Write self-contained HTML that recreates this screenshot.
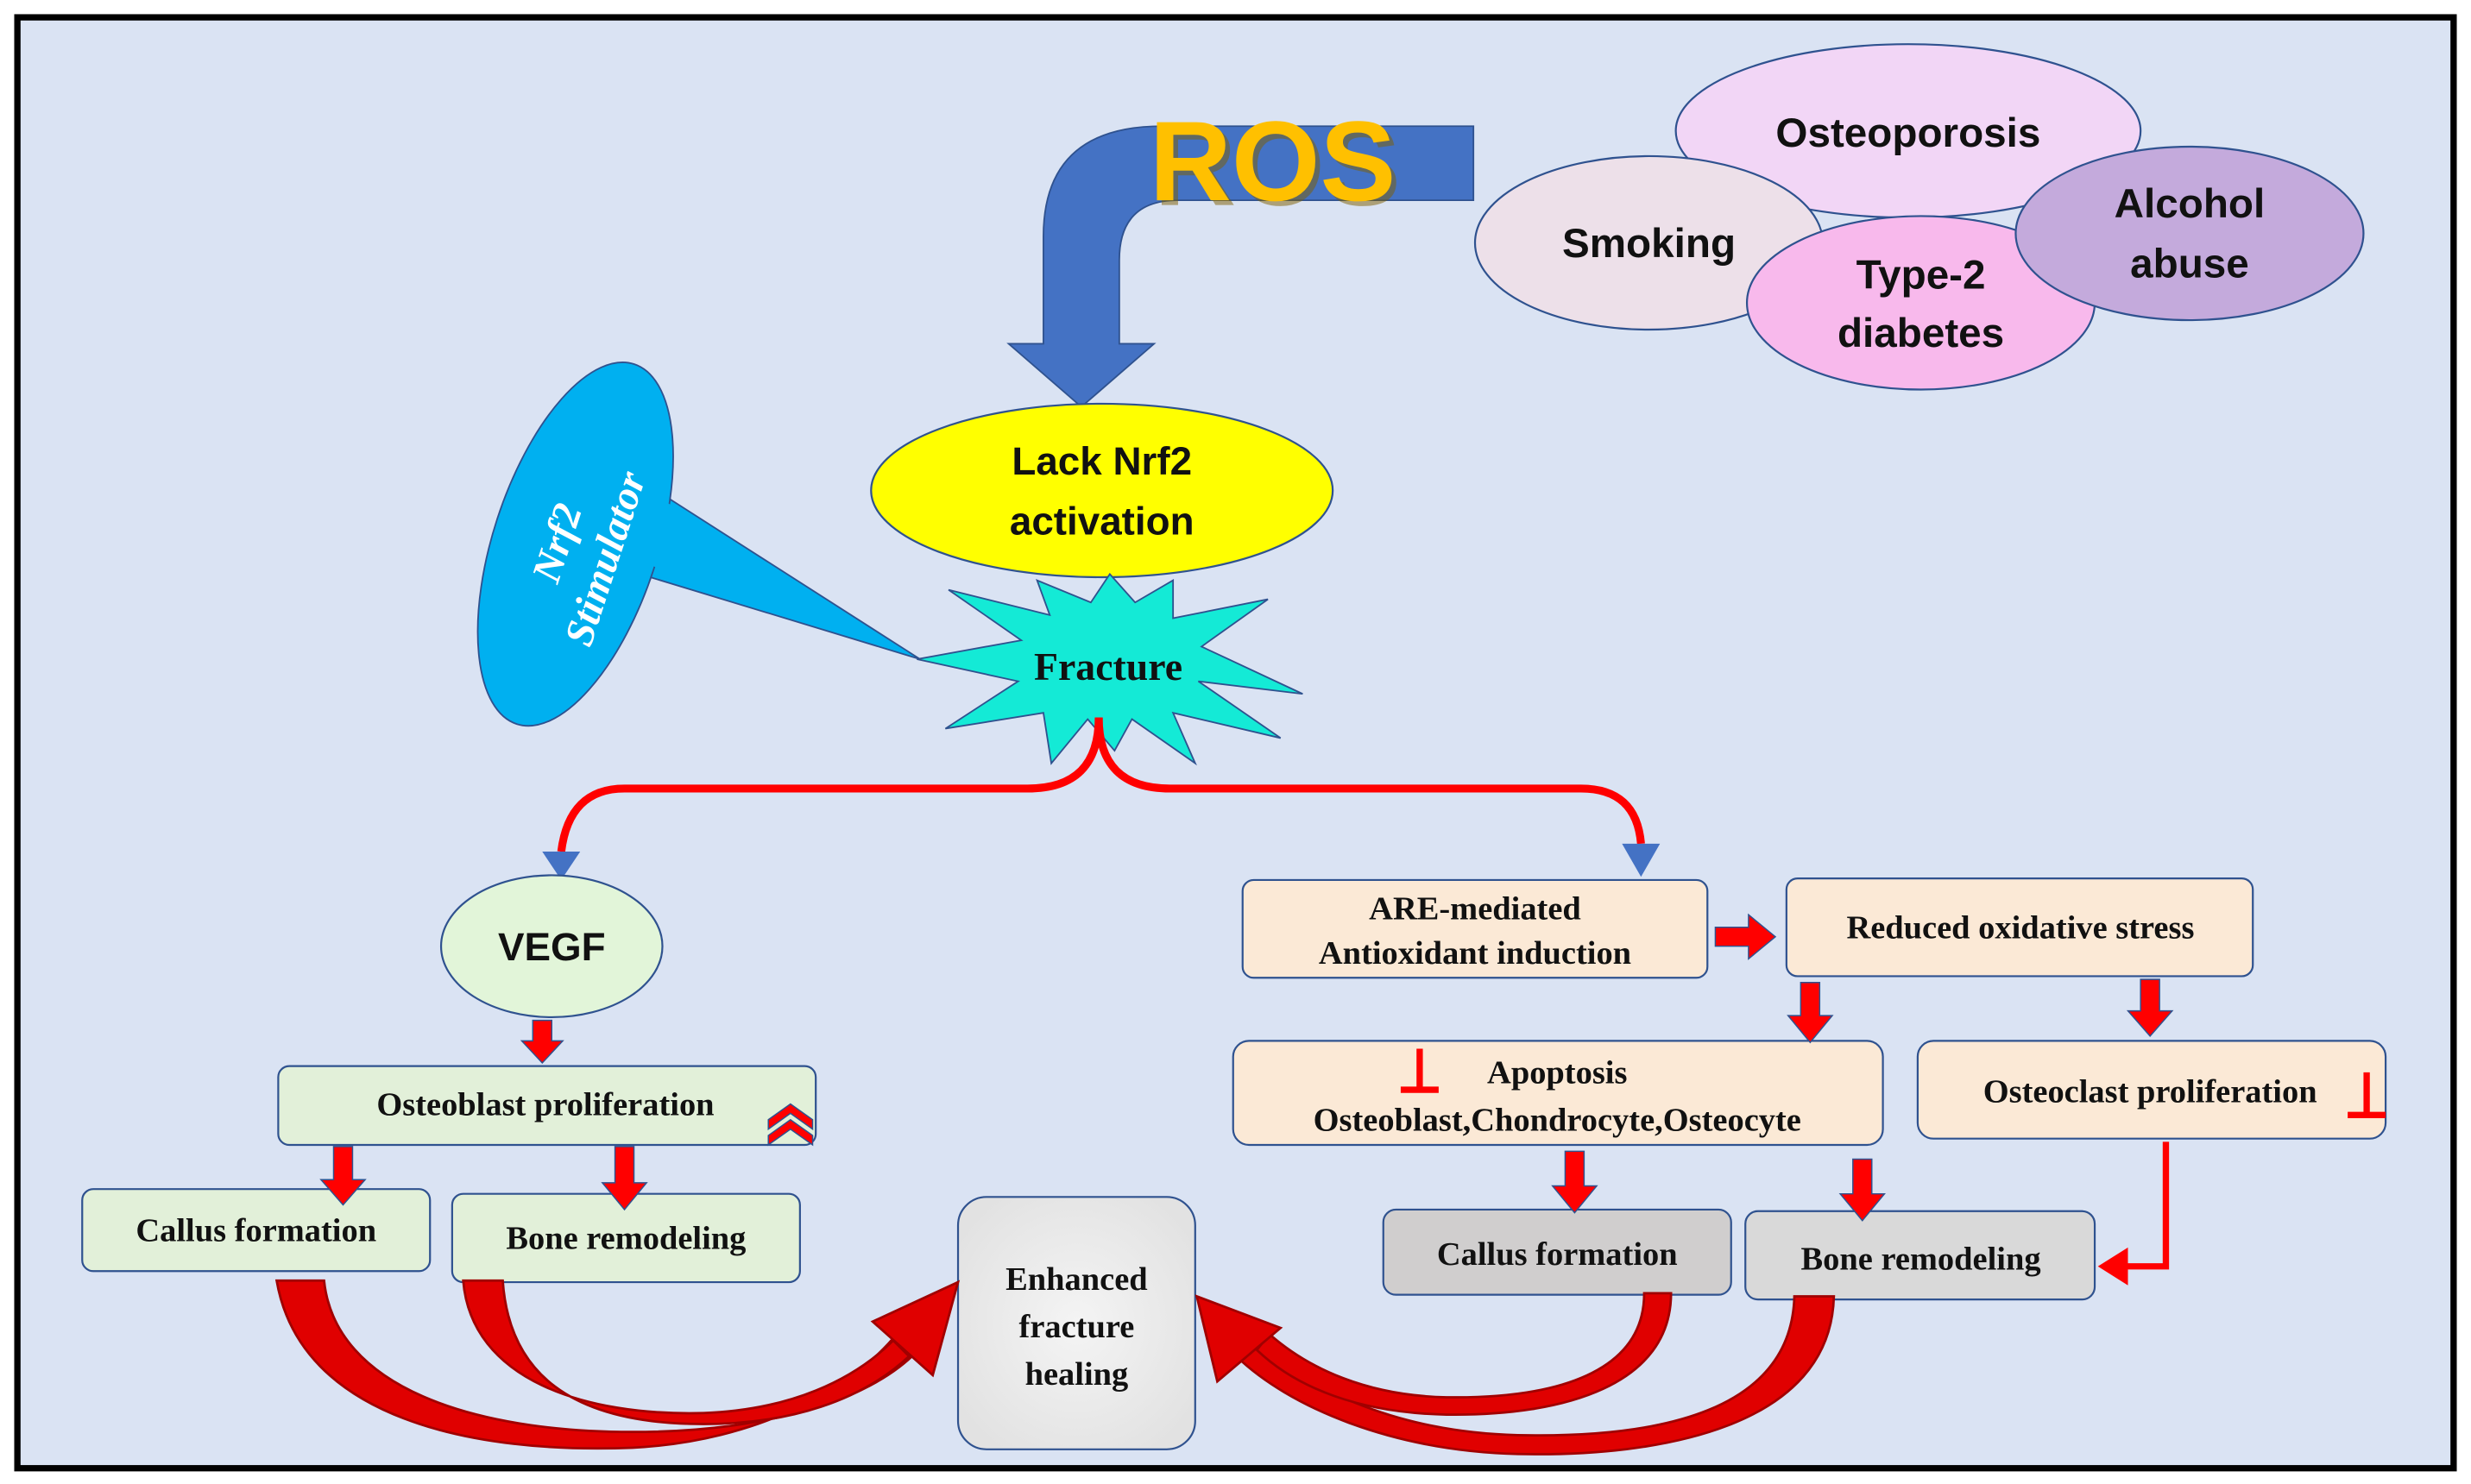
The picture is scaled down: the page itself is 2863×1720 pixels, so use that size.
<!DOCTYPE html>
<html><head><meta charset="utf-8"><style>
html,body{margin:0;padding:0;background:#fff;}
svg{display:block;}
.s{font-family:"Liberation Sans",sans-serif;font-weight:bold;fill:#111;}
.r{font-family:"Liberation Serif",serif;font-weight:bold;fill:#111;}
</style></head><body>
<svg width="2863" height="1720" viewBox="0 0 1563 941" preserveAspectRatio="none" xmlns="http://www.w3.org/2000/svg">
<defs>
<radialGradient id="gr" cx="50%" cy="50%" r="60%"><stop offset="0" stop-color="#f4f4f4"/><stop offset="1" stop-color="#e2e2e2"/></radialGradient>
</defs>
<rect x="0" y="0" width="1563" height="941" fill="#fff"/>
<rect x="11" y="11" width="1541" height="920" fill="#dae3f3" stroke="#000" stroke-width="4"/>

<!-- ROS arrow -->
<path d="M932,80 L932,127 L745,127 Q708,127 708,165 L708,218 L730,218 L684,258 L638,218 L660,218 L660,150 Q660,80 735,80 Z" fill="#4472c4" stroke="#2f528f" stroke-width="1"/>
<text x="805" y="127" text-anchor="middle" class="s" style="font-size:72px;fill:#7f6000" opacity="0.5" transform="translate(3,3)">ROS</text>
<text x="805" y="127" text-anchor="middle" class="s" style="font-size:72px;fill:#ffc000">ROS</text>

<!-- risk ellipses -->
<ellipse cx="1207" cy="83" rx="147" ry="55" fill="#f2d6f6" stroke="#2f528f" stroke-width="1.2"/>
<ellipse cx="1043" cy="154" rx="110" ry="55" fill="#ede0e9" stroke="#2f528f" stroke-width="1.2"/>
<ellipse cx="1215" cy="192" rx="110" ry="55" fill="#f8b9ec" stroke="#2f528f" stroke-width="1.2"/>
<ellipse cx="1385" cy="148" rx="110" ry="55" fill="#c4aadc" stroke="#2f528f" stroke-width="1.2"/>
<text x="1207" y="93" text-anchor="middle" class="s" style="font-size:26px">Osteoporosis</text>
<text x="1043" y="163" text-anchor="middle" class="s" style="font-size:26px">Smoking</text>
<text x="1215" y="183" text-anchor="middle" class="s" style="font-size:26px">Type-2</text>
<text x="1215" y="220" text-anchor="middle" class="s" style="font-size:26px">diabetes</text>
<text x="1385" y="138" text-anchor="middle" class="s" style="font-size:26px">Alcohol</text>
<text x="1385" y="176" text-anchor="middle" class="s" style="font-size:26px">abuse</text>

<!-- Lack Nrf2 -->
<ellipse cx="697" cy="311" rx="146" ry="55" fill="#ffff00" stroke="#2f528f" stroke-width="1.2"/>
<text x="697" y="301" text-anchor="middle" class="s" style="font-size:25px">Lack Nrf2</text>
<text x="697" y="339" text-anchor="middle" class="s" style="font-size:25px">activation</text>

<!-- Nrf2 stimulator -->
<polygon points="398,300 582,418 408,365" fill="#00b0f0" stroke="#2f528f" stroke-width="1"/>
<ellipse cx="364" cy="345" rx="52" ry="120" transform="rotate(18 364 345)" fill="#00b0f0" stroke="#2f528f" stroke-width="1"/>
<polygon points="400,305 575,414 410,358" fill="#00b0f0"/>
<g transform="rotate(-72 370 350)">
<text x="370" y="340" text-anchor="middle" class="r" style="font-size:26px;fill:#fff;font-style:italic">Nrf2</text>
<text x="370" y="372" text-anchor="middle" class="r" style="font-size:26px;fill:#fff;font-style:italic">Stimulator</text>
</g>

<!-- Fracture star -->
<polygon points="824,440 758,432 810,468 742,452 756,484 716,456 705,476 688,456 665,484 660,452 598,462 644,432 580,418 646,406 600,374 664,390 656,368 690,382 702,364 718,382 742,368 742,392 802,380 760,410" fill="#14ead6" stroke="#2f528f" stroke-width="1"/>
<text x="701" y="431" text-anchor="middle" class="r" style="font-size:25px">Fracture</text>

<!-- red branches -->
<path d="M695,455 Q695,500 650,500 L395,500 Q360,500 355,540" fill="none" stroke="#f00" stroke-width="5"/>
<path d="M695,455 Q695,500 740,500 L1000,500 Q1035,500 1038,535" fill="none" stroke="#f00" stroke-width="5"/>
<polygon points="343,540 367,540 355,558" fill="#4472c4"/>
<polygon points="1026,535 1050,535 1038,556" fill="#4472c4"/>

<!-- VEGF -->
<ellipse cx="349" cy="600" rx="70" ry="45" fill="#e2f5d9" stroke="#2f528f" stroke-width="1.2"/>
<text x="349" y="609" text-anchor="middle" class="s" style="font-size:25px">VEGF</text>

<!-- left boxes -->
<rect x="176" y="676" width="340" height="50" rx="7" fill="#e2f0d9" stroke="#2f528f" stroke-width="1.2"/>
<text x="345" y="707" text-anchor="middle" class="r" style="font-size:21px">Osteoblast proliferation</text>
<path d="M486,710 L500,700 L514,710 L514,716 L500,706 L486,716 Z M486,720 L500,710 L514,720 L514,726 L500,716 L486,726 Z" fill="#f00" stroke="#2f528f" stroke-width="0.8"/>
<rect x="52" y="754" width="220" height="52" rx="7" fill="#e2f0d9" stroke="#2f528f" stroke-width="1.2"/>
<text x="162" y="787" text-anchor="middle" class="r" style="font-size:21px">Callus formation</text>
<rect x="286" y="757" width="220" height="56" rx="7" fill="#e2f0d9" stroke="#2f528f" stroke-width="1.2"/>
<text x="396" y="792" text-anchor="middle" class="r" style="font-size:21px">Bone remodeling</text>

<!-- Enhanced box -->
<rect x="606" y="759" width="150" height="160" rx="18" fill="url(#gr)" stroke="#2f528f" stroke-width="1.2"/>
<text x="681" y="818" text-anchor="middle" class="r" style="font-size:21px">Enhanced</text>
<text x="681" y="848" text-anchor="middle" class="r" style="font-size:21px">fracture</text>
<text x="681" y="878" text-anchor="middle" class="r" style="font-size:21px">healing</text>

<!-- right boxes -->
<rect x="786" y="558" width="294" height="62" rx="7" fill="#fbe9d6" stroke="#2f528f" stroke-width="1.2"/>
<text x="933" y="583" text-anchor="middle" class="r" style="font-size:21px">ARE-mediated</text>
<text x="933" y="611" text-anchor="middle" class="r" style="font-size:21px">Antioxidant induction</text>
<rect x="1130" y="557" width="295" height="62" rx="7" fill="#fbe9d6" stroke="#2f528f" stroke-width="1.2"/>
<text x="1278" y="595" text-anchor="middle" class="r" style="font-size:21px">Reduced oxidative stress</text>
<rect x="780" y="660" width="411" height="66" rx="10" fill="#fbe9d6" stroke="#2f528f" stroke-width="1.2"/>
<text x="985" y="687" text-anchor="middle" class="r" style="font-size:21px">Apoptosis</text>
<text x="985" y="717" text-anchor="middle" class="r" style="font-size:21px">Osteoblast,Chondrocyte,Osteocyte</text>
<rect x="1213" y="660" width="296" height="62" rx="10" fill="#fbe9d6" stroke="#2f528f" stroke-width="1.2"/>
<text x="1360" y="699" text-anchor="middle" class="r" style="font-size:21px">Osteoclast proliferation</text>
<rect x="875" y="767" width="220" height="54" rx="8" fill="#d0cece" stroke="#2f528f" stroke-width="1.2"/>
<text x="985" y="802" text-anchor="middle" class="r" style="font-size:21px">Callus formation</text>
<rect x="1104" y="768" width="221" height="56" rx="8" fill="#d9d9d9" stroke="#2f528f" stroke-width="1.2"/>
<text x="1215" y="805" text-anchor="middle" class="r" style="font-size:21px">Bone remodeling</text>

<!-- inhibit marks -->
<path d="M898,665 L898,690 M886,691 L910,691" stroke="#f00" stroke-width="4" fill="none"/>
<path d="M1497,680 L1497,706 M1485,707 L1509,707" stroke="#f00" stroke-width="4" fill="none"/>

<!-- small down arrows -->
<g fill="#f00" stroke="#2f528f" stroke-width="0.8">
<path d="M337,647 L349,647 L349,660 L356,660 L343,674 L330,660 L337,660 Z"/>
<path d="M211,727 L223,727 L223,748 L231,748 L217,764 L203,748 L211,748 Z"/>
<path d="M389,727 L401,727 L401,750 L409,750 L395,767 L381,750 L389,750 Z"/>
<path d="M1139,623 L1151,623 L1151,644 L1159,644 L1145,661 L1131,644 L1139,644 Z"/>
<path d="M1354,621 L1366,621 L1366,641 L1374,641 L1360,657 L1346,641 L1354,641 Z"/>
<path d="M990,730 L1002,730 L1002,752 L1010,752 L996,769 L982,752 L990,752 Z"/>
<path d="M1172,735 L1184,735 L1184,757 L1192,757 L1178,774 L1164,757 L1172,757 Z"/>
<path d="M1085,588 L1106,588 L1106,580 L1123,594 L1106,608 L1106,600 L1085,600 Z"/>
</g>
<path d="M1370,724 L1370,803 L1342,803" stroke="#f00" stroke-width="4" fill="none"/>
<polygon points="1327,803 1346,791 1346,815" fill="#f00"/>

<!-- big curved arrows left -->
<g fill="#e00000" stroke="#a00000" stroke-width="1.5">
<path d="M175,812 C190,900 300,922 400,918 C480,914 540,880 568,845 L580,857 C548,890 480,908 400,908 C300,908 212,880 205,812 Z"/>
<path d="M293,812 C298,875 370,898 445,896 C500,894 540,875 565,850 L575,860 C545,888 500,903 445,903 C360,903 322,870 318,812 Z"/>
<polygon points="606,813 552,838 590,872"/>
<!-- right -->
<path d="M1160,822 C1158,905 1050,924 960,922 C880,920 815,892 782,860 L792,848 C822,878 880,908 960,910 C1050,912 1133,895 1135,822 Z"/>
<path d="M1057,820 C1057,878 990,898 915,897 C860,896 820,880 795,856 L803,846 C828,868 865,885 915,886 C985,887 1040,870 1040,820 Z"/>
<polygon points="757,822 770,876 810,842"/>
</g>
</svg>
</body></html>
